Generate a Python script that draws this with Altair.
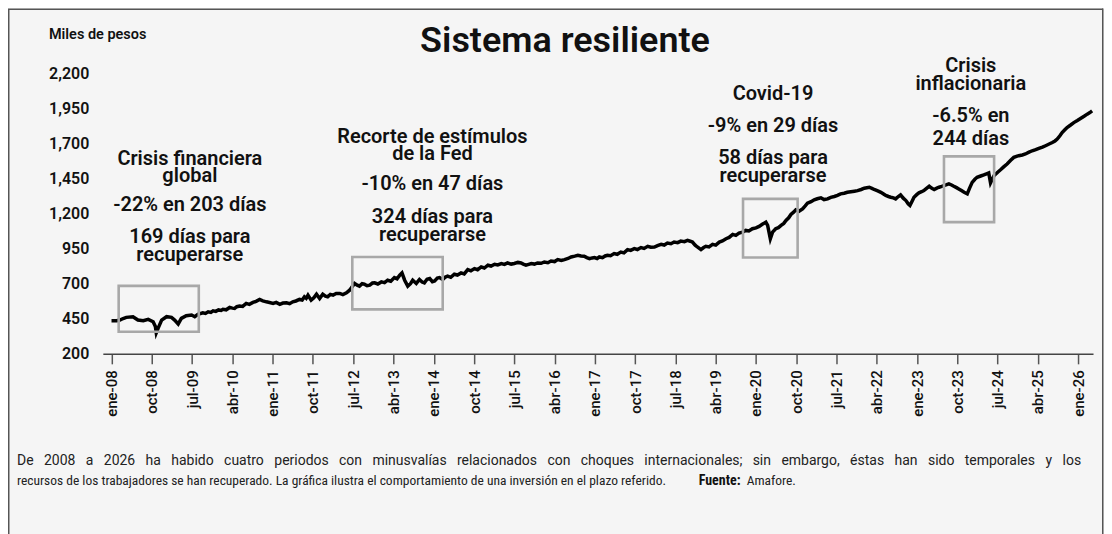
import altair as alt
import pandas as pd

# ---- data (months since Jan-2008, thousands of pesos) ----
t_vals = [0, 1.2, 1.85, 2.6, 3.3, 4.8, 5.9, 7.1, 8.2, 9.3, 9.8, 10.0, 10.4, 11.2, 12.3, 13.4, 14.1, 14.9, 15.6, 16.7,
          17.9, 18.6, 19.3, 20.4, 21.0, 21.6, 22.2, 22.7, 23.3, 23.9, 24.5, 24.9, 25.6, 26.4, 27.0, 27.5, 28.0, 28.6,
          29.3, 30.1, 30.8, 31.6, 32.3, 33.1, 33.8, 34.6, 35.3, 36.1, 36.8, 37.6, 38.3, 39.1, 39.8, 40.5, 41.2, 42.0,
          42.6, 43.1, 43.5, 43.9, 44.6, 45.2, 45.8, 46.5, 47.2, 47.8, 48.3, 48.9, 49.5, 50.2, 51.0, 51.7, 52.5, 53.2,
          54.3, 54.9, 55.4, 56.0, 56.5, 57.1, 57.7, 58.3, 58.8, 59.5, 60.3, 61.0, 61.7, 62.4, 63.2, 63.8, 64.4, 64.9,
          65.5, 66.2, 66.8, 67.3, 68.1, 68.8, 69.4, 69.9, 70.5, 71.1, 71.7, 72.2, 72.8, 73.3, 74.0, 74.6, 75.1, 75.8,
          76.6, 77.3, 78.1, 78.8, 79.6, 80.3, 81.1, 81.8, 82.6, 83.3, 84.1, 84.8, 85.6, 86.3, 87.1, 87.8, 88.5, 89.3,
          90.0, 90.8, 91.5, 92.0, 92.6, 93.2, 93.8, 94.5, 95.2, 96.0, 96.7, 97.5, 98.2, 99.0, 99.7, 100.5, 101.2,
          102.0, 102.7, 103.5, 104.2, 104.9, 105.6, 106.2, 106.8, 107.4, 107.9, 108.5, 109.0,
          109.7, 110.3, 110.8, 111.5, 112.3, 113.0, 113.8, 114.5, 115.3, 116.0, 116.8, 117.5, 118.3, 119.0, 119.8,
          120.5, 121.3, 122.0, 122.8, 123.5, 124.2, 125.0, 125.7, 126.5, 127.2, 128.0, 128.7, 129.3, 129.8, 130.4,
          130.9, 131.7, 132.3, 132.8, 133.5, 134.3, 135.0, 135.8, 136.5, 137.3, 138.0, 138.8, 139.5, 140.2, 141.0,
          141.7, 142.4, 143.2, 144.0, 144.7, 145.4, 146.2, 146.6, 147.2, 147.7, 148.4, 149.0, 149.6, 150.2, 150.7,
          151.3, 151.8, 152.4, 152.9, 153.6, 154.4, 155.0, 155.5, 156.3, 157.0, 157.7, 158.5, 159.2, 160.0, 160.7,
          161.5, 162.2, 162.9, 163.7, 164.4,
          165.2, 166.0, 166.7, 167.5, 168.2, 169.3, 169.9, 170.4, 171.2, 171.9, 172.5, 173.0, 173.6, 174.1, 174.7,
          175.2, 175.8, 176.3, 176.9, 177.5, 178.0, 178.4, 178.9, 179.3, 179.9, 180.4, 181.0, 181.5, 182.1, 182.7,
          183.3, 183.8, 184.4, 184.9, 185.5, 186.0, 186.6, 187.1, 187.7, 188.2, 188.8, 189.3, 189.9, 190.5, 191.2,
          191.7, 192.3, 192.9, 193.4, 194.2, 194.9, 195.5, 196.0, 196.4, 197.2, 198.0, 198.7, 199.4, 200.1, 200.9,
          201.6, 202.2, 202.7, 203.5, 204.2, 205.0, 205.7, 206.5, 207.2, 208.0, 208.7, 209.5, 210.2, 210.8, 211.3,
          211.9, 212.4, 213.0, 213.5, 214.3, 215.0, 215.8, 216.5, 217.3, 218.0, 218.6, 219.1]

v_vals = [436, 436, 441, 452, 460, 465, 441, 436, 446, 429, 395, 350, 382, 441, 465, 460, 441, 413, 453, 472,
          477, 465, 482, 493, 488, 500, 496, 507, 503, 513, 509, 517, 514, 531, 526, 524, 536, 541,
          538, 560, 553, 567, 574, 588, 578, 571, 566, 560, 567, 553, 562, 564, 558, 571, 577, 588,
          584, 607, 596, 619, 583, 600, 626, 595, 626, 612, 607, 624, 619, 630, 631, 622, 635, 654,
          702, 690, 683, 700, 697, 686, 690, 705, 706, 698, 713, 708, 725, 718, 744, 735, 761, 777,
          725, 683, 700, 725, 702, 730, 712, 706, 732, 737, 715, 720, 740, 744, 730, 748, 754, 746,
          768, 762, 777, 770, 801, 792, 808, 800, 820, 812, 832, 826, 839, 834, 844, 838, 848, 840,
          844, 852, 848, 840, 832, 838, 844, 840, 848, 846, 855, 850, 862, 858, 872, 866, 872,
          880, 891, 897, 903, 898, 896, 886, 879, 884, 887, 880, 891,
          886, 898, 903, 900, 915, 910, 926, 920, 943, 938, 950, 944, 958, 952, 967,
          960, 962, 972, 981, 976, 990, 985, 997, 993, 1004, 1000, 1009, 1003, 997, 975,
          962, 943, 958, 967, 962, 981, 975, 997, 1005, 1021, 1030, 1052, 1045, 1061, 1068,
          1080, 1076, 1092, 1098, 1109, 1124, 1139, 1116, 1021, 1068, 1092, 1100, 1116, 1130, 1151,
          1170, 1194, 1210, 1227, 1217, 1234, 1255, 1274, 1285, 1298, 1306, 1313, 1300, 1305, 1316,
          1322, 1330, 1341, 1345, 1352,
          1356, 1360, 1364, 1372, 1381, 1388, 1380, 1372, 1362, 1352, 1340, 1329, 1322, 1317, 1312,
          1305, 1322, 1334, 1310, 1293, 1270, 1258, 1290, 1317, 1335, 1348, 1356, 1364, 1380, 1395,
          1380, 1372, 1382, 1388, 1394, 1400, 1406, 1412, 1404, 1395, 1385, 1376, 1364, 1352, 1341,
          1380, 1423, 1445, 1459, 1468, 1476, 1484, 1490, 1419, 1471, 1495, 1514, 1535, 1554, 1580,
          1601, 1608, 1613, 1618, 1625, 1638, 1648, 1656, 1665, 1674, 1684, 1696, 1707, 1718, 1731,
          1755, 1778, 1798, 1814, 1832, 1849, 1864, 1878, 1894, 1909, 1920, 1932]

tick_labels = ["ene-08", "oct-08", "jul-09", "abr-10", "ene-11", "oct-11", "jul-12", "abr-13", "ene-14",
               "oct-14", "jul-15", "abr-16", "ene-17", "oct-17", "jul-18", "abr-19", "ene-20", "oct-20",
               "jul-21", "abr-22", "ene-23", "oct-23", "jul-24", "abr-25", "ene-26"]
tick_months = [0, 9, 18, 27, 36, 45, 54, 63, 72, 81, 90, 99, 108, 117, 126, 135, 144, 153, 162, 171,
               180, 189, 198, 207, 216]
y_ticks = [200, 450, 700, 950, 1200, 1450, 1700, 1950, 2200]

# crisis boxes
box_t1 = [1.6, 53.8, 141.1, 186.0]
box_t2 = [19.5, 74.0, 153.3, 197.2]
box_v1 = [358, 517, 887, 1139]
box_v2 = [685, 891, 1305, 1608]

# annotations
ann_text = ["Crisis financiera", "global", "-22% en 203 días", "169 días para", "recuperarse",
            "Recorte de estímulos", "de la Fed", "-10% en 47 días", "324 días para", "recuperarse",
            "Covid-19", "-9% en 29 días", "58 días para", "recuperarse",
            "Crisis", "inflacionaria", "-6.5% en", "244 días"]
ann_t = [17.5, 17.5, 17.5, 17.5, 17.5,
         71.7, 71.7, 71.7, 71.7, 71.7,
         147.8, 147.8, 147.8, 147.8,
         192.0, 192.0, 192.0, 192.0]
ann_v = [1589, 1471, 1258, 1033, 903,
         1743, 1625, 1412, 1175, 1045,
         2051, 1826, 1594, 1471,
         2252, 2122, 1897, 1731]

footer1 = ("De 2008 a 2026 ha habido cuatro periodos con minusvalías relacionados con choques internacionales; "
           "sin embargo, éstas han sido temporales y los")
footer2 = ("recursos de los trabajadores se han recuperado. La gráfica ilustra el comportamiento de una "
           "inversión en el plazo referido.")

FONT = "Roboto"
FOOT_FONT = "Liberation Sans Narrow, Roboto Condensed, DejaVu Sans Condensed, sans-serif"
FOOT_SIZE = 13.5
FOOT1_SIZE = 14

# ---- footer layout helper: justify the first line (approximate Roboto advance widths) ----
_w = {' ': 248, 'a': 544, 'b': 561, 'c': 523, 'd': 564, 'e': 530, 'f': 347, 'g': 561, 'h': 551, 'i': 243,
      'j': 239, 'k': 507, 'l': 243, 'm': 876, 'n': 552, 'o': 570, 'p': 561, 'q': 568, 'r': 338, 's': 516,
      't': 327, 'u': 551, 'v': 484, 'w': 751, 'x': 496, 'y': 473, 'z': 496, ',': 196, '.': 263, ';': 212,
      'á': 544, 'é': 530, 'í': 243, 'ó': 570, 'D': 655}


def text_w(s):
    return sum(_w.get(ch, 561) for ch in s) / 1000 * FOOT1_SIZE


PLOT_LEFT_PAGE = 103
foot_left = 17 - PLOT_LEFT_PAGE
foot_right = 1083 - PLOT_LEFT_PAGE
words = footer1.split(" ")
calib = 918 / text_w(footer1)          # rendered width of the line at 14px Roboto
natural = sum(text_w(w) for w in words) * calib
gap = (foot_right - foot_left - natural) / (len(words) - 1)
wx, cur = [], foot_left
for w in words:
    wx.append(cur)
    cur += text_w(w) * calib + gap
words_df = pd.DataFrame({"w": words, "px": wx})

line_df = pd.DataFrame({"t": t_vals, "v": v_vals})
box_df = pd.DataFrame({"t1": box_t1, "t2": box_t2, "v1": box_v1, "v2": box_v2})
ann_df = pd.DataFrame({"text": ann_text, "t": ann_t, "v": ann_v})
one = pd.DataFrame({"a": [0]})

label_expr = "[" + ",".join("'" + s + "'" for s in tick_labels) + "][round(datum.value / 9)]"

xscale = alt.Scale(domain=[-1.94, 219.3], nice=False, zero=False)
yscale = alt.Scale(domain=[200, 2200], nice=False, zero=False)

x_axis = alt.Axis(values=tick_months, labelExpr=label_expr, labelAngle=270, labelAlign="right",
                  labelBaseline="middle", labelFont=FONT, labelFontSize=15, labelFontWeight=500,
                  labelColor="#111", labelPadding=6, labelOverlap=False, labelFlush=False, labelBound=False,
                  tickSize=10, tickColor="#555", tickWidth=1.5, domainColor="#444", domainWidth=1.5,
                  grid=False, title="")
y_axis = alt.Axis(values=y_ticks, format=",.0f", labelFont=FONT, labelFontSize=16, labelFontWeight=600,
                  labelColor="#111", labelPadding=14, labelOverlap=False, labelBound=False,
                  ticks=False, domain=False, grid=False, title="")

line = alt.Chart(line_df).mark_line(color="black", strokeWidth=3.5, strokeJoin="miter").encode(
    x=alt.X("t:Q", scale=xscale, axis=x_axis),
    y=alt.Y("v:Q", scale=yscale, axis=y_axis),
)

boxes = alt.Chart(box_df).mark_rect(fillOpacity=0, stroke="#a8a8a8", strokeWidth=2.6).encode(
    x=alt.X("t1:Q", scale=xscale, axis=x_axis), x2="t2:Q",
    y=alt.Y("v1:Q", scale=yscale, axis=y_axis), y2="v2:Q",
)

ann = alt.Chart(ann_df).mark_text(font=FONT, fontSize=20, fontWeight=600, color="#111",
                                  align="center", baseline="middle").encode(
    x=alt.X("t:Q", scale=xscale, axis=x_axis), y=alt.Y("v:Q", scale=yscale, axis=y_axis), text="text:N")

title = alt.Chart(one).mark_text(text="Sistema resiliente", font=FONT, fontSize=36, fontWeight=600,
                                 color="#111", align="center", baseline="alphabetic").encode(
    x=alt.value(463), y=alt.value(-21))

ytitle = alt.Chart(one).mark_text(text="Miles de pesos", font=FONT, fontSize=14.5, fontWeight=600,
                                  color="#111", align="left", baseline="middle").encode(
    x=alt.value(-54), y=alt.value(-38))

foot1 = alt.Chart(words_df).mark_text(font=FONT, fontSize=FOOT1_SIZE, color="#222",
                                      align="left", baseline="middle").encode(
    x=alt.X("px:Q", scale=None), y=alt.value(388), text="w:N")
foot2 = alt.Chart(one).mark_text(text=footer2, font=FOOT_FONT, fontSize=FOOT_SIZE, color="#222",
                                 align="left", baseline="middle").encode(
    x=alt.value(foot_left), y=alt.value(408))
fuente = alt.Chart(one).mark_text(text="Fuente:", font=FOOT_FONT, fontSize=FOOT_SIZE + 0.5, fontWeight="bold",
                                  color="#111", align="left", baseline="middle").encode(
    x=alt.value(597), y=alt.value(408))
amafore = alt.Chart(one).mark_text(text="Amafore.", font=FOOT_FONT, fontSize=FOOT_SIZE, color="#222",
                                   align="left", baseline="middle").encode(
    x=alt.value(645), y=alt.value(408))

frame_l = alt.Chart(one).mark_rule(color="#555", strokeWidth=1.5).encode(
    x=alt.value(-94.25), y=alt.value(-64.25), y2=alt.value(470))
frame_t = alt.Chart(one).mark_rule(color="#555", strokeWidth=1.5).encode(
    x=alt.value(-95), x2=alt.value(1002), y=alt.value(-64.25))
frame_r = alt.Chart(one).mark_rule(color="#555", strokeWidth=1.5).encode(
    x=alt.value(1001.75), y=alt.value(-65), y2=alt.value(470))

chart = alt.layer(line, boxes, ann, title, ytitle, foot1, foot2, fuente, amafore,
                  frame_l, frame_t, frame_r).properties(
    width=992, height=281,
    padding={"left": 95, "top": 65, "right": 11, "bottom": 180},
    autosize=alt.AutoSizeParams(type="none"),
).configure(background="#f5f5f5").configure_view(stroke=None)

chart.save("out.html", embed_options={"renderer": "svg", "actions": False})
